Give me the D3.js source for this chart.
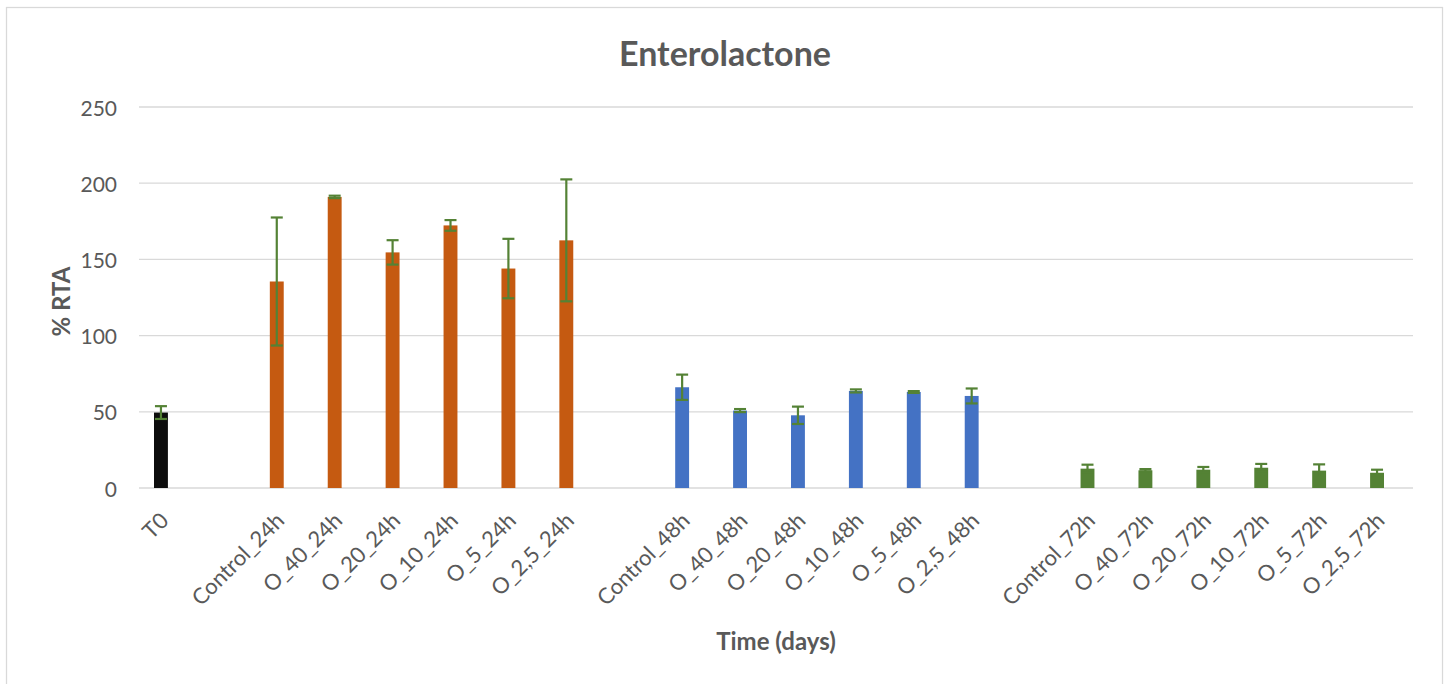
<!DOCTYPE html>
<html>
<head>
<meta charset="utf-8">
<script src="https://cdn.jsdelivr.net/npm/d3@7"></script>
<style>
  html, body { margin: 0; padding: 0; background: #fff; }
  svg text { font-family: Lato, "Open Sans", sans-serif; fill: #595959; }
</style>
</head>
<body>
<div id="chart"></div>
<script>
// -- Enterolactone bar chart with error bars --
const categories = [
  'T0', '', 'Control_24h', 'O_40_24h', 'O_20_24h', 'O_10_24h', 'O_5_24h', 'O_2,5_24h',
  ' ', 'Control_48h', 'O_40_48h', 'O_20_48h', 'O_10_48h', 'O_5_48h', 'O_2,5_48h',
  '  ', 'Control_72h', 'O_40_72h', 'O_20_72h', 'O_10_72h', 'O_5_72h', 'O_2,5_72h'
];
const values = [
  49.5, null, 135.5, 191, 154.6, 172.3, 144, 162.5,
  null, 66.1, 50.8, 47.7, 63.7, 63, 60.4,
  null, 12.7, 11.6, 12, 13.3, 11.4, 10
];
const errors = [
  4.2, null, 42, 0.8, 8, 3.5, 19.5, 40,
  null, 8.3, 1, 5.7, 1, 0.6, 4.9,
  null, 2.6, 0.8, 1.8, 2.5, 4.1, 2
];
const groups = [
  't0', null, 'h24', 'h24', 'h24', 'h24', 'h24', 'h24',
  null, 'h48', 'h48', 'h48', 'h48', 'h48', 'h48',
  null, 'h72', 'h72', 'h72', 'h72', 'h72', 'h72'
];
const yTicks = [0, 50, 100, 150, 200, 250];

const colors = { t0: '#0d0d0d', h24: '#c55a11', h48: '#4472c4', h72: '#548235' };
const errColor = '#548235';

const width = 1451, height = 684;
const plot = { left: 139, right: 1413, top: 107, bottom: 488 };

const svg = d3.select('#chart').append('svg')
  .attr('width', width)
  .attr('height', height);

svg.append('rect')
  .attr('x', 6.5).attr('y', 7.5)
  .attr('width', 1436).attr('height', 690)
  .attr('fill', '#fff')
  .attr('stroke', '#d9d9d9')
  .attr('stroke-width', 1.25);

// categories sit a little left of the gridline span, as in the original
const x = d3.scaleBand()
  .domain(categories)
  .range([132, 1406])
  .paddingInner(0.76)
  .paddingOuter(0.38);

const y = d3.scaleLinear()
  .domain([0, 250])
  .range([plot.bottom, plot.top]);

// gridlines
svg.append('g')
  .selectAll('line')
  .data(yTicks)
  .enter().append('line')
  .attr('x1', plot.left).attr('x2', plot.right)
  .attr('y1', d => y(d)).attr('y2', d => y(d))
  .attr('stroke', '#d9d9d9')
  .attr('stroke-width', 1.3);

// y tick labels
svg.append('g')
  .selectAll('text')
  .data(yTicks)
  .enter().append('text')
  .attr('x', 117)
  .attr('y', d => y(d))
  .attr('text-anchor', 'end')
  .attr('dominant-baseline', 'central')
  .attr('font-size', '21px')
  .text(d => d);

const data = categories.map((c, i) => ({ cat: c, v: values[i], e: errors[i], g: groups[i] }))
  .filter(d => d.v != null);

// bars
svg.append('g')
  .selectAll('rect')
  .data(data)
  .enter().append('rect')
  .attr('x', d => x(d.cat))
  .attr('width', x.bandwidth())
  .attr('y', d => y(d.v))
  .attr('height', d => y(0) - y(d.v))
  .attr('fill', d => colors[d.g]);

// error bars
const eg = svg.append('g')
  .selectAll('g')
  .data(data)
  .enter().append('g')
  .attr('stroke', errColor)
  .attr('stroke-width', 2.2);

eg.append('line')
  .attr('x1', d => x(d.cat) + x.bandwidth() / 2)
  .attr('x2', d => x(d.cat) + x.bandwidth() / 2)
  .attr('y1', d => y(d.v + d.e))
  .attr('y2', d => y(Math.max(0, d.v - d.e)));

eg.selectAll('line.cap')
  .data(d => [d.v + d.e, d.v - d.e].map(val => ({ d, val })))
  .enter().append('line')
  .attr('class', 'cap')
  .attr('x1', o => x(o.d.cat) + x.bandwidth() / 2 - 6)
  .attr('x2', o => x(o.d.cat) + x.bandwidth() / 2 + 6)
  .attr('y1', o => y(o.val))
  .attr('y2', o => y(o.val));

// x tick labels, rotated
svg.append('g')
  .selectAll('text')
  .data(categories.filter(c => c.trim() !== ''))
  .enter().append('text')
  .attr('transform', c => `translate(${x(c) + x.bandwidth() / 2 + 3},${y(0) + 28}) rotate(-45)`)
  .attr('text-anchor', 'end')
  .attr('dominant-baseline', 'central')
  .attr('font-size', '22px')
  .text(c => c);

// title
svg.append('text')
  .attr('x', 725)
  .attr('y', 52)
  .attr('text-anchor', 'middle')
  .attr('dominant-baseline', 'central')
  .attr('font-size', '34px')
  .attr('font-weight', 'bold')
  .text('Enterolactone');

// axis titles
svg.append('text')
  .attr('transform', `translate(60,${(plot.top + plot.bottom) / 2 + 4}) rotate(-90)`)
  .attr('text-anchor', 'middle')
  .attr('dominant-baseline', 'central')
  .attr('font-size', '24px')
  .attr('font-weight', 'bold')
  .text('% RTA');

svg.append('text')
  .attr('x', (plot.left + plot.right) / 2)
  .attr('y', 640)
  .attr('text-anchor', 'middle')
  .attr('dominant-baseline', 'central')
  .attr('font-size', '24px')
  .attr('font-weight', 'bold')
  .text('Time (days)');
</script>
</body>
</html>
